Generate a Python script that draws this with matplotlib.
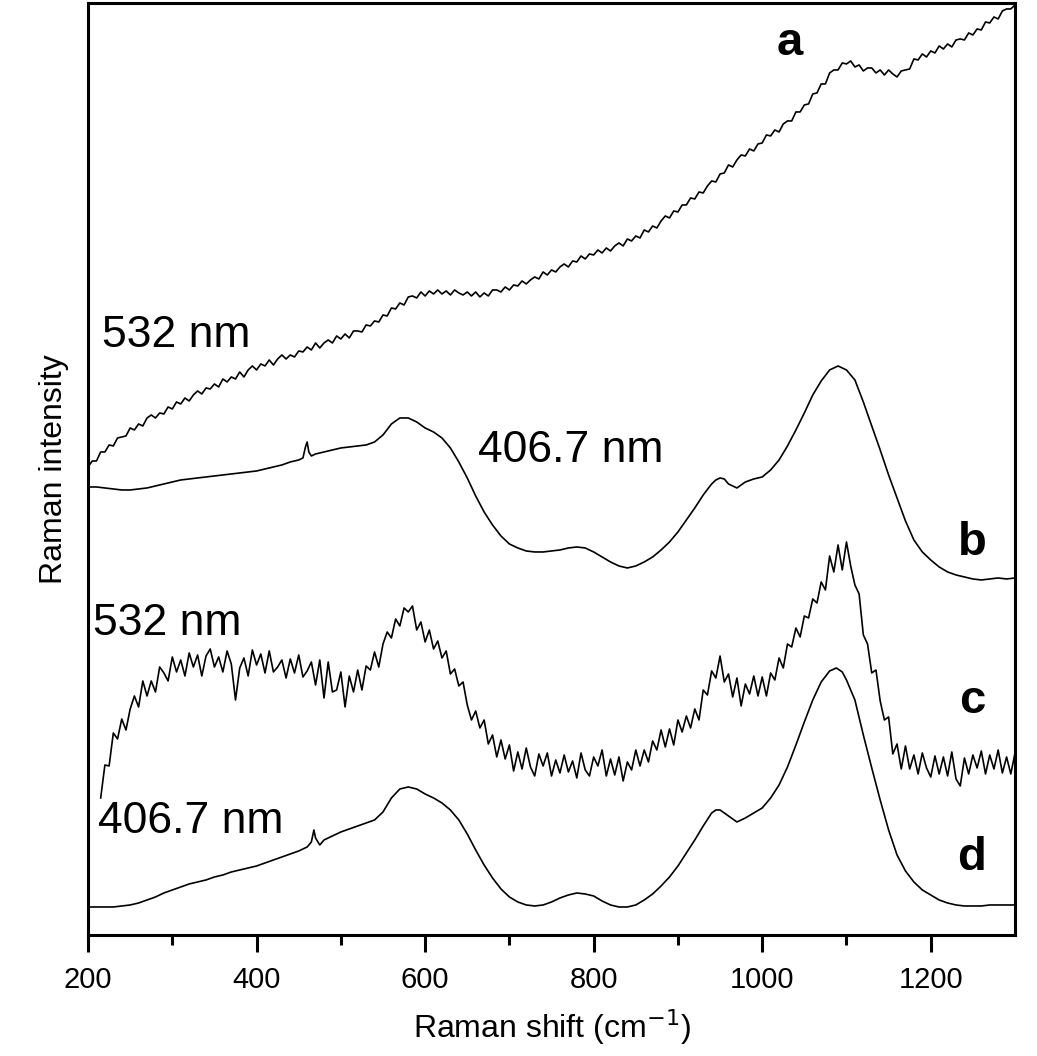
import numpy as np
import matplotlib
matplotlib.use('Agg')
from matplotlib import pyplot as plt

plt.rcParams['font.family'] = ['Liberation Sans', 'DejaVu Sans']

# spectrum a : 532 nm, upper (every 5 cm-1)
xa = np.arange(200, 1301, 5)
ya = [468, 474, 474, 483, 483, 490, 489, 497, 498, 499,
      507, 505, 511, 509, 517, 520, 517, 522, 521, 528,
      526, 533, 531, 537, 534, 540, 544, 541, 547, 546,
      551, 548, 556, 553, 558, 556, 563, 558, 565, 569,
      565, 571, 569, 575, 570, 576, 580, 576, 580, 578,
      584, 583, 588, 585, 592, 587, 592, 595, 592, 599,
      596, 601, 597, 604, 604, 603, 610, 609, 614, 613,
      620, 619, 627, 626, 632, 630, 638, 639, 637, 643,
      639, 644, 641, 645, 641, 644, 640, 645, 642, 640,
      643, 639, 643, 638, 642, 639, 645, 645, 643, 648,
      645, 650, 649, 654, 651, 655, 658, 656, 663, 660,
      665, 663, 668, 671, 668, 674, 673, 679, 676, 681,
      680, 685, 682, 687, 684, 689, 692, 689, 696, 694,
      699, 697, 705, 703, 709, 707, 714, 719, 717, 724,
      723, 730, 730, 737, 736, 743, 742, 749, 754, 753,
      761, 762, 770, 768, 775, 780, 779, 786, 784, 791,
      792, 800, 799, 805, 803, 811, 814, 814, 823, 823,
      830, 831, 841, 842, 851, 851, 862, 865, 865, 872,
      871, 874, 868, 870, 864, 867, 867, 862, 865, 860,
      865, 861, 858, 864, 865, 866, 876, 875, 881, 878,
      884, 882, 889, 886, 891, 888, 895, 896, 895, 902,
      900, 906, 905, 913, 912, 918, 916, 924, 926, 926,
      930]

# spectrum b : 406.7 nm, upper
xb = [200, 210, 220, 230, 240, 250, 260, 270, 280, 290, 300, 310, 320, 330, 340, 350, 360, 370, 380, 390,
      400, 410, 420, 430, 440, 450, 455, 458, 460, 462, 465, 470, 480, 490, 500, 510, 520, 530, 540, 550,
      560, 570, 580, 590, 600, 610, 620, 630, 640, 650, 660, 670, 680, 690, 700, 710, 720, 730, 740, 750,
      760, 770, 780, 790, 800, 810, 820, 830, 840, 850, 860, 870, 880, 890, 900, 910, 920, 930, 940, 945,
      950, 955, 960, 970, 980, 990, 1000, 1010, 1020, 1030, 1040, 1050, 1060, 1070, 1080, 1090, 1100, 1110, 1120, 1130,
      1140, 1150, 1160, 1170, 1180, 1190, 1200, 1210, 1220, 1230, 1240, 1250, 1260, 1270, 1280, 1290, 1300]
yb = [448, 448, 447, 446, 445, 445, 446, 447, 449, 451, 453, 455, 456, 457, 458, 459, 460, 461, 462, 463,
      464, 466, 468, 470, 473, 475, 477, 488, 493, 483, 479, 481, 483, 485, 487, 488, 489, 490, 493, 500,
      511, 517, 517, 513, 507, 503, 497, 487, 473, 457, 439, 423, 410, 399, 391, 387, 384, 383, 383, 384,
      385, 387, 388, 387, 383, 378, 373, 369, 367, 369, 373, 378, 385, 393, 403, 415, 427, 440, 451, 455,
      457, 456, 451, 447, 453, 456, 458, 465, 475, 489, 505, 522, 540, 554, 565, 569, 565, 555, 533, 509,
      485, 460, 437, 414, 395, 383, 375, 368, 363, 360, 358, 356, 355, 356, 357, 356, 357]

# spectrum c : 532 nm, lower (noisy, every 5 cm-1)
xc = np.arange(215, 1301, 5)
yc = [137, 170, 169, 202, 196, 216, 205, 226, 239, 228,
      254, 239, 254, 243, 268, 262, 254, 278, 263, 275,
      259, 282, 268, 280, 259, 279, 286, 268, 278, 263,
      284, 271, 235, 267, 277, 259, 285, 270, 281, 262,
      284, 263, 268, 275, 257, 276, 262, 280, 258, 264,
      273, 250, 275, 237, 273, 243, 245, 263, 228, 259,
      243, 265, 245, 269, 265, 283, 268, 291, 303, 297,
      316, 309, 327, 323, 329, 305, 313, 293, 305, 286,
      294, 277, 284, 261, 266, 249, 253, 230, 215, 224,
      207, 215, 191, 200, 178, 195, 176, 190, 164, 183,
      166, 187, 168, 159, 181, 169, 182, 159, 175, 162,
      180, 163, 174, 157, 182, 165, 159, 178, 169, 185,
      159, 176, 160, 178, 154, 173, 165, 185, 169, 185,
      173, 194, 185, 205, 188, 206, 190, 215, 203, 219,
      207, 226, 215, 245, 240, 264, 257, 279, 253, 261,
      238, 257, 229, 251, 241, 259, 239, 258, 239, 262,
      255, 277, 267, 291, 288, 307, 298, 319, 317, 336,
      332, 353, 345, 379, 363, 390, 365, 393, 369, 350,
      341, 300, 291, 262, 265, 234, 215, 218, 181, 191,
      166, 189, 166, 180, 161, 182, 167, 158, 179, 161,
      178, 159, 183, 156, 149, 177, 161, 180, 167, 184,
      161, 180, 166, 185, 162, 178, 161, 182]

# spectrum d : 406.7 nm, lower
xd = [200, 210, 220, 230, 240, 250, 260, 270, 280, 290, 300, 310, 320, 330, 340, 350, 360, 370, 380, 390,
      400, 410, 420, 430, 440, 450, 460, 465, 468, 470, 475, 480, 490, 500, 510, 520, 530, 540, 550, 560,
      570, 580, 590, 600, 610, 620, 630, 640, 650, 660, 670, 680, 690, 700, 710, 720, 730, 740, 750, 760,
      770, 780, 790, 800, 810, 820, 830, 840, 850, 860, 870, 880, 890, 900, 910, 920, 930, 940, 945, 950,
      955, 960, 970, 980, 990, 1000, 1010, 1020, 1030, 1040, 1050, 1060, 1070, 1080, 1088, 1095, 1100, 1110, 1120, 1130,
      1140, 1150, 1160, 1170, 1180, 1190, 1200, 1210, 1220, 1230, 1240, 1250, 1260, 1270, 1280, 1290, 1300]
yd = [28, 28, 28, 28, 29, 30, 32, 35, 38, 42, 45, 48, 51, 53, 55, 58, 60, 63, 65, 67,
      69, 72, 75, 78, 81, 84, 88, 93, 105, 97, 90, 95, 99, 103, 106, 109, 112, 115, 123, 137,
      146, 148, 146, 141, 137, 132, 125, 115, 101, 85, 70, 57, 46, 38, 33, 30, 29, 30, 33, 37,
      40, 42, 41, 39, 34, 30, 28, 28, 30, 35, 41, 49, 58, 69, 82, 95, 109, 122, 125, 125,
      122, 119, 113, 117, 122, 127, 137, 150, 168, 190, 213, 235, 253, 264, 267, 263, 255, 235, 200, 167,
      135, 105, 80, 64, 53, 45, 40, 35, 32, 30, 29, 29, 29, 30, 30, 30, 30]

fig = plt.figure(figsize=(10.37, 10.56), dpi=100)
ax = fig.add_axes([0.0849, 0.1146, 0.8939, 0.8826])

for xs, ys in [(xa, ya), (xb, yb), (xc, yc), (xd, yd)]:
    ax.plot(xs, ys, color='black', lw=1.2)

ax.set_xlim(200, 1300)
ax.set_ylim(0, 932)
ax.set_xticks([200, 400, 600, 800, 1000, 1200])
ax.set_xticks(np.arange(300, 1300, 200), minor=True)
ax.set_yticks([])
ax.tick_params(axis='x', which='major', direction='out', length=12, width=2.2, labelsize=21, pad=10)
ax.tick_params(axis='x', which='minor', direction='out', length=7, width=2.2)
for s in ax.spines.values():
    s.set_linewidth(2.2)

ax.set_xlabel('Raman shift (cm$^{-1}$)', fontsize=23, labelpad=10)
ax.set_ylabel('Raman intensity', fontsize=23, labelpad=14)

ax.text(216, 588, '532 nm', fontsize=32, va='baseline')
ax.text(663, 473, '406.7 nm', fontsize=32, va='baseline')
ax.text(206, 300, '532 nm', fontsize=32, va='baseline')
ax.text(212, 102, '406.7 nm', fontsize=32, va='baseline')
ax.text(1033, 880, 'a', fontsize=34, fontweight='bold', va='baseline', ha='center')
ax.text(1249, 380, 'b', fontsize=34, fontweight='bold', va='baseline', ha='center')
ax.text(1249, 222, 'c', fontsize=34, fontweight='bold', va='baseline', ha='center')
ax.text(1249, 65, 'd', fontsize=34, fontweight='bold', va='baseline', ha='center')

plt.savefig('out.png', dpi=100)
